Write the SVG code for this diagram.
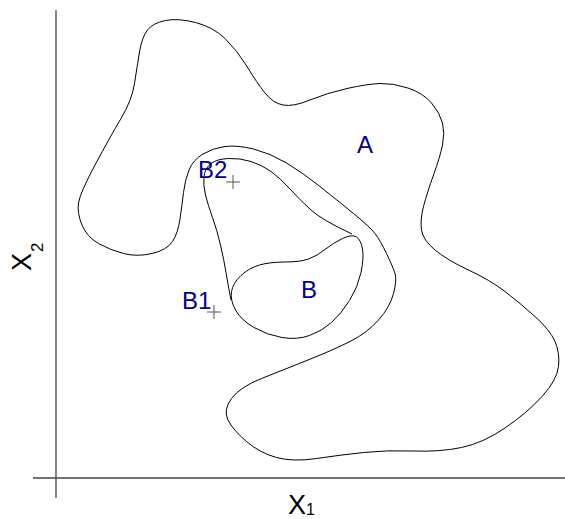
<svg xmlns="http://www.w3.org/2000/svg" width="565" height="519" viewBox="0 0 565 519">
<style>
.axis{stroke:#444;stroke-width:1.3;fill:none}
.contour{stroke:#000;stroke-width:1;fill:none}
.cross{stroke:#555;stroke-width:1;fill:none}
.lbl{font-family:"Liberation Sans",Arial,sans-serif;font-size:24px;fill:#00008B}
.ax{font-family:"Liberation Sans",Arial,sans-serif;fill:#000}
</style>
<rect width="565" height="519" fill="#fff"/>
<g id="axes">
<line class="axis" x1="56" y1="10" x2="56" y2="498"/>
<line class="axis" x1="33" y1="478" x2="565" y2="478"/>
<text class="ax" x="288" y="514" font-size="27">X</text>
<text class="ax" x="306" y="515" font-size="16">1</text>
<text class="ax" font-size="27" transform="translate(31,271) rotate(-90)">X</text>
<text class="ax" font-size="17" transform="translate(43,252) rotate(-90)">2</text>
</g>
<g id="A">
<path class="contour" d="M195.5,22.5 Q213,27 225,38.5 Q237,50 247,66.5 Q257,83 265,93 Q273,103 283,105 Q293,107 310,100 Q327,93 347,88.5 Q367,84 380,83.5 Q393,83 408,88 Q423,93 431.5,103 Q440,113 442.5,123 Q445,133 442.5,145 Q440,157 433.5,175 Q427,193 423.5,206.5 Q420,220 421.5,230 Q423,240 435,250 Q447,260 468.5,270 Q490,280 505,291.5 Q520,303 535,316.5 Q550,330 555,341.5 Q560,353 558.5,366.5 Q557,380 542,396.5 Q527,413 505,428 Q483,443 461.5,447.5 Q440,452 413.5,451 Q387,450 363.5,452.5 Q340,455 316.5,458.5 Q293,462 276.5,457.5 Q260,453 246.5,441.5 Q233,430 228,420 Q223,410 231.5,398.5 Q240,387 261.5,378.5 Q283,370 308,360 Q333,350 350,341.5 Q367,333 378.5,320 Q390,307 393.5,293.5 Q397,280 395,273.5 Q393,267 386.5,253.5 Q380,240 375,233.5 Q370,227 353.5,213.5 Q337,200 320,186.5 Q303,173 286.5,163 Q270,153 253.5,149 Q237,145 225,146.5 Q213,148 203,154 Q193,160 189,170 Q185,180 183.5,192.5 Q182,205 180,219 Q178,233 172.5,241.5 Q167,250 152,253.5 Q137,257 123.5,253.5 Q110,250 98.5,243.5 Q87,237 82,225 Q77,213 78.5,203 Q80,193 95,165 Q110,137 121,118.5 Q132,100 134.5,83.5 Q137,67 139.5,52 Q142,37 147.5,30 Q153,23 165.5,20.5 Q178,18 195.5,22.5 Z"/>
<text class="lbl" x="365" y="153" text-anchor="middle">A</text>
</g>
<g id="B">
<path class="contour" d="M356.5,237 Q361,240 362.5,249 Q364,258 361,272.5 Q358,287 349.5,300.5 Q341,314 331.5,322.5 Q322,331 309.5,335.5 Q297,340 282,337.5 Q267,335 254,327.5 Q241,320 235.5,310 Q230,300 231.5,291.5 Q233,283 241,275.5 Q249,268 259.5,265 Q270,262 285,262 Q300,262 308.5,259 Q317,256 325,249.5 Q333,243 342.5,238.5 Q352,234 356.5,237 Z"/>
<text class="lbl" x="309" y="298" text-anchor="middle">B</text>
</g>
<g id="connectors">
<path class="contour" d="M352,234 Q322,220 311,210 Q300,200 290,189 Q280,178 271,171.5 Q262,165 251,161.5 Q240,158 228.5,158.5 Q217,159 211,163.5 Q205,168 204,176.5 Q203,185 205.5,195 Q208,205 212.5,217.5 Q217,230 220.5,245 Q224,260 226,272.5 Q228,285 231,300"/>
</g>
<g id="B2">
<path class="cross" d="M226,182 H240 M233,175 V189"/>
<text class="lbl" x="198" y="178">B2</text>
</g>
<g id="B1">
<path class="cross" d="M207,312 H221 M214,305 V319"/>
<text class="lbl" x="182" y="309">B1</text>
</g>
</svg>
